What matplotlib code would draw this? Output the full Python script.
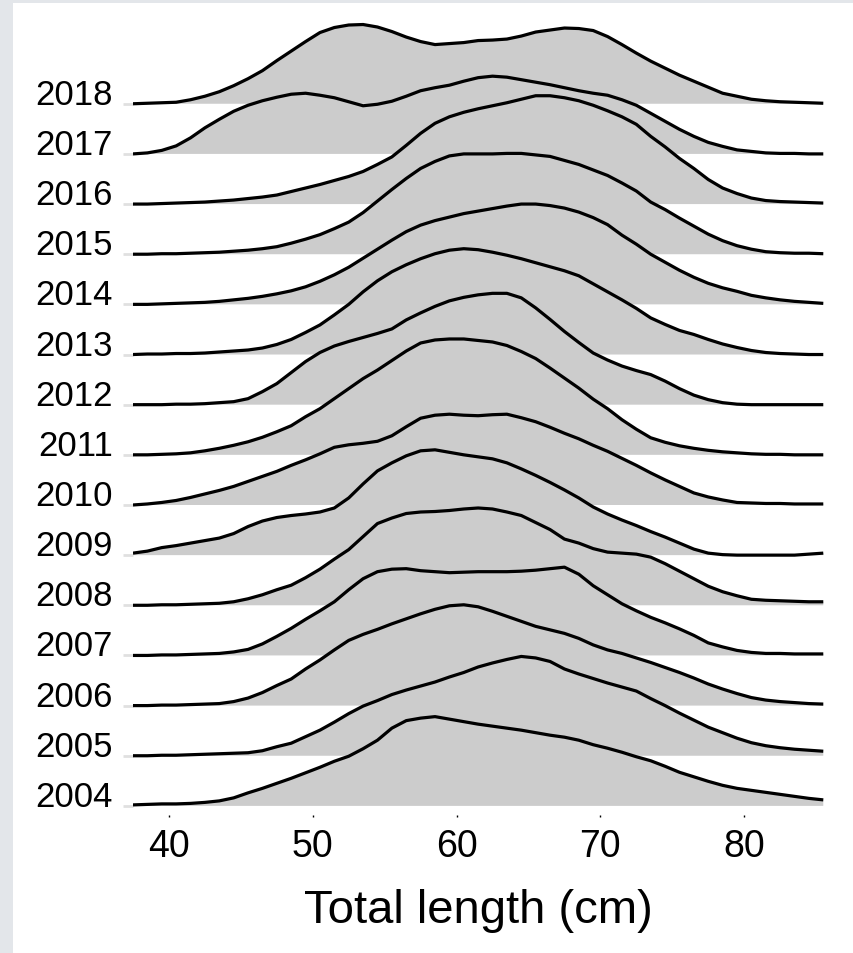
import matplotlib
matplotlib.use("Agg")
import matplotlib.pyplot as plt
from matplotlib.patches import Rectangle

plt.rcParams['font.family'] = ['Liberation Sans', 'DejaVu Sans']

# Total length (cm) at which the density heights were read
length_cm = [37.5, 38.5, 39.5, 40.5, 41.5, 42.5, 43.5, 44.5, 45.5, 46.5, 47.5, 48.5,
             49.5, 50.5, 51.5, 52.5, 53.5, 54.5, 55.5, 56.5, 57.5, 58.5, 59.5, 60.5,
             61.5, 62.5, 63.5, 64.5, 65.5, 66.5, 67.5, 68.5, 69.5, 70.5, 71.5, 72.5,
             73.5, 74.5, 75.5, 76.5, 77.5, 78.5, 79.5, 80.5, 81.5, 82.5, 83.5, 84.5, 85.5]

years = ["2004", "2005", "2006", "2007", "2008", "2009", "2010", "2011",
         "2012", "2013", "2014", "2015", "2016", "2017", "2018"]

# scaled density heights (in units of ridge spacing)
d2004 = [0.02, 0.03, 0.04, 0.04, 0.05, 0.07, 0.10, 0.16, 0.26, 0.35, 0.45, 0.55, 0.66,
         0.77, 0.89, 0.99, 1.14, 1.31, 1.55, 1.70, 1.75, 1.78, 1.73, 1.68, 1.63, 1.59,
         1.55, 1.51, 1.46, 1.41, 1.37, 1.31, 1.22, 1.15, 1.07, 0.98, 0.90, 0.79, 0.67,
         0.58, 0.49, 0.41, 0.35, 0.31, 0.27, 0.23, 0.19, 0.15, 0.12]
d2005 = [0.00, 0.00, 0.01, 0.01, 0.02, 0.03, 0.04, 0.05, 0.06, 0.10, 0.18, 0.25, 0.38,
         0.51, 0.67, 0.84, 0.99, 1.10, 1.22, 1.31, 1.39, 1.47, 1.57, 1.66, 1.77, 1.85,
         1.92, 1.98, 1.95, 1.88, 1.73, 1.63, 1.54, 1.45, 1.37, 1.29, 1.14, 1.00, 0.85,
         0.71, 0.57, 0.46, 0.35, 0.26, 0.20, 0.16, 0.13, 0.11, 0.09]
d2006 = [0.00, 0.00, 0.01, 0.01, 0.02, 0.03, 0.04, 0.08, 0.15, 0.26, 0.40, 0.53, 0.73,
         0.91, 1.11, 1.30, 1.42, 1.52, 1.63, 1.73, 1.83, 1.92, 1.99, 2.01, 1.97, 1.88,
         1.78, 1.68, 1.58, 1.51, 1.44, 1.34, 1.21, 1.11, 1.04, 0.95, 0.86, 0.76, 0.66,
         0.55, 0.43, 0.33, 0.24, 0.16, 0.11, 0.08, 0.06, 0.04, 0.03]
d2007 = [0.00, 0.00, 0.01, 0.01, 0.02, 0.03, 0.04, 0.07, 0.12, 0.23, 0.38, 0.54, 0.72,
         0.89, 1.07, 1.31, 1.53, 1.67, 1.72, 1.73, 1.69, 1.67, 1.65, 1.66, 1.67, 1.67,
         1.67, 1.68, 1.70, 1.73, 1.76, 1.62, 1.39, 1.21, 1.03, 0.89, 0.76, 0.65, 0.53,
         0.40, 0.25, 0.17, 0.10, 0.06, 0.04, 0.04, 0.03, 0.03, 0.03]
d2008 = [0.00, 0.00, 0.01, 0.01, 0.02, 0.03, 0.04, 0.07, 0.13, 0.21, 0.31, 0.40, 0.55,
         0.72, 0.92, 1.11, 1.37, 1.63, 1.74, 1.83, 1.86, 1.87, 1.89, 1.92, 1.94, 1.92,
         1.86, 1.79, 1.65, 1.51, 1.32, 1.24, 1.13, 1.06, 1.04, 1.02, 0.96, 0.83, 0.68,
         0.53, 0.38, 0.27, 0.19, 0.12, 0.10, 0.09, 0.08, 0.07, 0.07]
d2009 = [0.04, 0.08, 0.15, 0.19, 0.24, 0.29, 0.34, 0.43, 0.57, 0.68, 0.75, 0.79, 0.82,
         0.86, 0.94, 1.14, 1.42, 1.68, 1.84, 1.98, 2.08, 2.10, 2.05, 2.00, 1.96, 1.92,
         1.84, 1.72, 1.59, 1.45, 1.30, 1.14, 0.96, 0.82, 0.70, 0.59, 0.47, 0.36, 0.24,
         0.12, 0.04, 0.01, 0.00, 0.00, 0.00, 0.00, 0.00, 0.02, 0.04]
d2010 = [0.00, 0.02, 0.05, 0.09, 0.15, 0.22, 0.29, 0.37, 0.47, 0.57, 0.67, 0.79, 0.90,
         1.02, 1.15, 1.20, 1.23, 1.27, 1.38, 1.56, 1.73, 1.79, 1.81, 1.79, 1.78, 1.80,
         1.81, 1.74, 1.66, 1.55, 1.43, 1.32, 1.19, 1.07, 0.93, 0.79, 0.64, 0.50, 0.37,
         0.24, 0.16, 0.10, 0.05, 0.04, 0.03, 0.03, 0.02, 0.02, 0.02]
d2011 = [0.00, 0.00, 0.01, 0.02, 0.04, 0.08, 0.13, 0.19, 0.26, 0.35, 0.46, 0.58, 0.76,
         0.92, 1.12, 1.32, 1.52, 1.69, 1.88, 2.07, 2.23, 2.29, 2.31, 2.31, 2.28, 2.25,
         2.18, 2.06, 1.92, 1.73, 1.53, 1.33, 1.11, 0.92, 0.70, 0.51, 0.34, 0.25, 0.18,
         0.13, 0.09, 0.06, 0.04, 0.02, 0.01, 0.01, 0.00, 0.00, 0.00]
d2012 = [0.00, 0.00, 0.00, 0.01, 0.01, 0.02, 0.04, 0.06, 0.12, 0.26, 0.42, 0.64, 0.86,
         1.04, 1.17, 1.26, 1.34, 1.42, 1.51, 1.69, 1.83, 1.96, 2.07, 2.14, 2.19, 2.22,
         2.22, 2.13, 1.93, 1.70, 1.46, 1.24, 1.03, 0.89, 0.77, 0.68, 0.60, 0.47, 0.32,
         0.19, 0.10, 0.04, 0.01, 0.00, 0.00, 0.00, 0.00, 0.00, 0.00]
d2013 = [0.00, 0.01, 0.01, 0.02, 0.02, 0.03, 0.05, 0.07, 0.09, 0.13, 0.20, 0.30, 0.44,
         0.59, 0.79, 1.00, 1.25, 1.47, 1.65, 1.79, 1.91, 2.01, 2.08, 2.11, 2.09, 2.04,
         1.98, 1.91, 1.83, 1.75, 1.67, 1.57, 1.41, 1.25, 1.09, 0.92, 0.73, 0.60, 0.48,
         0.40, 0.30, 0.21, 0.14, 0.08, 0.04, 0.02, 0.01, 0.00, 0.00]
d2014 = [0.00, 0.00, 0.01, 0.02, 0.03, 0.04, 0.06, 0.09, 0.12, 0.16, 0.21, 0.27, 0.35,
         0.46, 0.59, 0.74, 0.92, 1.10, 1.28, 1.45, 1.58, 1.67, 1.74, 1.81, 1.86, 1.91,
         1.96, 2.00, 2.00, 1.97, 1.92, 1.84, 1.73, 1.59, 1.38, 1.20, 1.00, 0.84, 0.68,
         0.54, 0.42, 0.33, 0.26, 0.18, 0.13, 0.09, 0.06, 0.04, 0.02]
d2015 = [0.00, 0.00, 0.01, 0.01, 0.02, 0.03, 0.04, 0.06, 0.08, 0.11, 0.15, 0.22, 0.30,
         0.39, 0.51, 0.64, 0.83, 1.06, 1.29, 1.51, 1.71, 1.85, 1.96, 2.00, 2.00, 2.00,
         2.01, 2.01, 1.98, 1.95, 1.87, 1.79, 1.68, 1.57, 1.42, 1.26, 1.04, 0.89, 0.72,
         0.56, 0.40, 0.27, 0.17, 0.10, 0.05, 0.03, 0.02, 0.02, 0.01]
d2016 = [0.00, 0.00, 0.01, 0.02, 0.03, 0.04, 0.06, 0.08, 0.11, 0.14, 0.18, 0.25, 0.32,
         0.39, 0.47, 0.55, 0.65, 0.79, 0.94, 1.17, 1.41, 1.61, 1.74, 1.83, 1.90, 1.96,
         2.02, 2.09, 2.16, 2.16, 2.12, 2.06, 1.97, 1.86, 1.74, 1.59, 1.35, 1.14, 0.91,
         0.71, 0.49, 0.32, 0.21, 0.12, 0.07, 0.05, 0.04, 0.03, 0.02]
d2017 = [0.00, 0.02, 0.07, 0.16, 0.32, 0.52, 0.69, 0.85, 0.97, 1.06, 1.13, 1.19, 1.21,
         1.17, 1.12, 1.04, 0.96, 0.99, 1.05, 1.15, 1.26, 1.32, 1.37, 1.45, 1.52, 1.55,
         1.53, 1.48, 1.43, 1.38, 1.32, 1.26, 1.21, 1.17, 1.08, 0.97, 0.81, 0.65, 0.49,
         0.35, 0.23, 0.15, 0.08, 0.05, 0.02, 0.01, 0.01, 0.00, 0.00]
d2018 = [0.00, 0.01, 0.02, 0.03, 0.08, 0.15, 0.24, 0.36, 0.50, 0.66, 0.86, 1.05, 1.24,
         1.42, 1.52, 1.57, 1.58, 1.53, 1.44, 1.33, 1.24, 1.18, 1.20, 1.22, 1.26, 1.27,
         1.29, 1.35, 1.43, 1.47, 1.51, 1.50, 1.46, 1.34, 1.18, 1.01, 0.85, 0.71, 0.57,
         0.45, 0.33, 0.21, 0.15, 0.09, 0.06, 0.04, 0.03, 0.02, 0.01]

densities = [d2004, d2005, d2006, d2007, d2008, d2009, d2010, d2011,
             d2012, d2013, d2014, d2015, d2016, d2017, d2018]

x_ticks = [40, 50, 60, 70, 80]

W, H = 854, 954
fig = plt.figure(figsize=(W / 100, H / 100), dpi=100)
fig.patch.set_facecolor('#e3e6ea')
fig.patches.append(Rectangle((13 / W, 0), 1, (H - 4) / H, transform=fig.transFigure,
                             facecolor='white', edgecolor='none', zorder=-10))

left_px, right_px, top_px, bot_px = 133, 824, 20, 815.5
ax = fig.add_axes([left_px / W, (H - bot_px) / H, (right_px - left_px) / W,
                   (bot_px - top_px) / H])
ax.set_zorder(1)
ax.set_facecolor('none')

n = len(years)
for i in range(n - 1, -1, -1):
    y = [i + v for v in densities[i]]
    z = 2 * (n - i)
    ax.fill_between(length_cm, i, y, facecolor='#cccccc', edgecolor='none', zorder=z)
    ax.plot(length_cm, y, color='black', lw=2.3, solid_capstyle='butt',
            solid_joinstyle='round', zorder=z + 1)

ax.set_xlim(37.5, 85.55)
ax.set_ylim(-0.1715, 15.69)

ax.set_xticks(x_ticks)
ax.set_xticklabels([str(t) for t in x_ticks], fontsize=27)
ax.set_yticks(range(n))
ax.set_yticklabels(years, fontsize=25)
for lab in ax.get_yticklabels():
    lab.set_va('baseline')

ax.tick_params(axis='x', length=1.5, width=1.0, color='black', pad=8.3)
ax.tick_params(axis='y', length=7.2, width=2.0, color='#e0e0e0', pad=7.2)

for s in ax.spines.values():
    s.set_visible(False)

ax.set_xlabel('Total length (cm)', fontsize=34)
ax.xaxis.label.set_va('baseline')
ax.xaxis.set_label_coords(0.5, (H - 923 - (H - bot_px)) / (bot_px - top_px))

fig.savefig('out.png', dpi=100, facecolor=fig.get_facecolor())
